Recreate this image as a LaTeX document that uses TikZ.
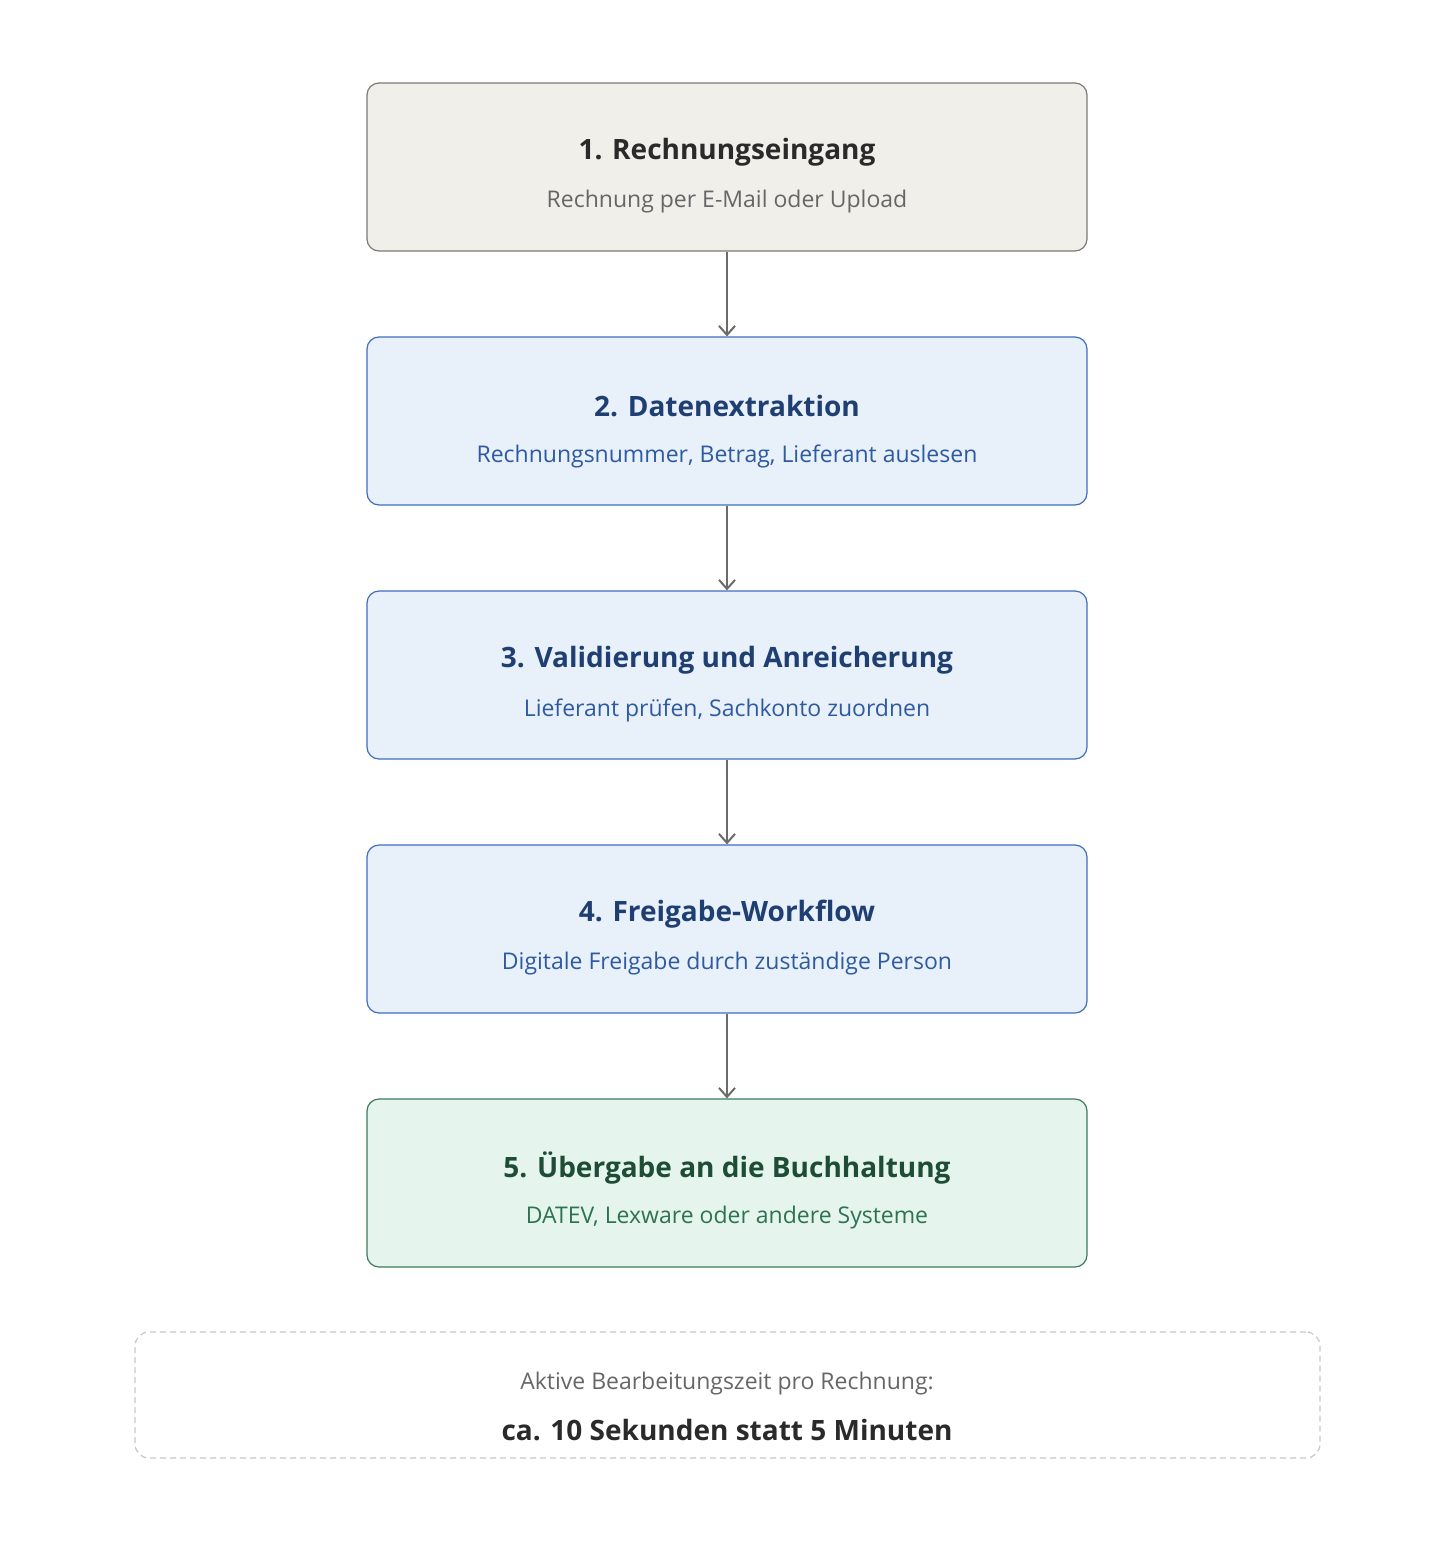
\documentclass[tikz,border=0pt]{standalone}
\usepackage{fontspec}
\setmainfont{Open Sans}
\usetikzlibrary{arrows.meta}
\definecolor{gbd}{HTML}{7A7A76}\definecolor{gfl}{HTML}{F0EFEA}\definecolor{gt}{HTML}{2A2A2A}\definecolor{gs}{HTML}{666666}
\definecolor{bbd}{HTML}{3F6DBF}\definecolor{bfl}{HTML}{E8F0FA}\definecolor{bt}{HTML}{1F3F73}\definecolor{bs}{HTML}{2E5AA0}
\definecolor{nbd}{HTML}{3D7A5C}\definecolor{nfl}{HTML}{E5F5EE}\definecolor{nt}{HTML}{1E4D36}\definecolor{ns}{HTML}{2E7350}
\definecolor{arr}{HTML}{6B6B68}
\begin{document}
\begin{tikzpicture}[x=1pt,y=-1pt,
 box/.style={draw=#1bd,fill=#1fl,line width=1.2pt,rounded corners=12pt,minimum width=720pt,minimum height=168pt,inner sep=0pt},
 ttl/.style={font=\fontsize{28}{32}\selectfont\bfseries,text=#1t},
 sub/.style={font=\fontsize{23}{28}\selectfont,text=#1s},
 ar/.style={draw=arr,line width=2.5pt,-{Straight Barb[length=9pt,width=16pt,line width=2pt]}}]
\useasboundingbox (0,0) rectangle (1448,1548);
\foreach \n/\c/\y/\t/\s in {1/g/167/1. Rechnungseingang/Rechnung per E-Mail oder Upload,
 2/b/421/2. Datenextraktion/{Rechnungsnummer, Betrag, Lieferant auslesen},
 3/b/675/3. Validierung und Anreicherung/{Lieferant prüfen, Sachkonto zuordnen},
 4/b/929/4. Freigabe-Workflow/Digitale Freigabe durch zuständige Person,
 5/n/1183/5. Übergabe an die Buchhaltung/{DATEV, Lexware oder andere Systeme}}{
 \node[box=\c] (b\n) at (727,\y) {};
 \node[ttl=\c] (t\n) at (727,\y-15) {\t};
 \node[sub=\c] (s\n) at (727,\y+35) {\s};
}
\foreach \a/\b in {1/2,2/3,3/4,4/5}{\draw[ar] (b\a.south) -- (b\b.north);}
\node[draw=black!22,dashed,dash pattern=on 6pt off 4pt,line width=1.2pt,rounded corners=14pt,minimum width=1185pt,minimum height=126pt] (sum) at (727.5,1395) {};
\node[font=\fontsize{23}{28}\selectfont,text=gs] (l1) at (727,1384) {Aktive Bearbeitungszeit pro Rechnung:};
\node[font=\fontsize{28}{32}\selectfont\bfseries,text=gt] (l2) at (727,1430) {ca. 10 Sekunden statt 5 Minuten};
\end{tikzpicture}
\end{document}
